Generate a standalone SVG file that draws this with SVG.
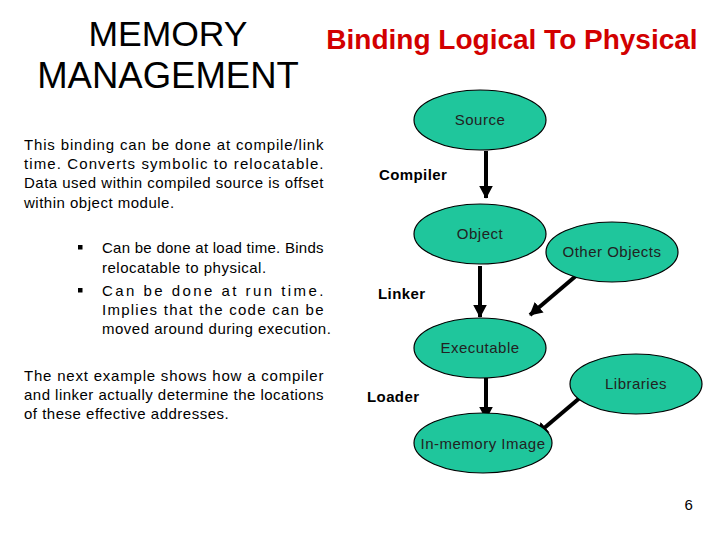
<svg xmlns="http://www.w3.org/2000/svg" width="720" height="540" viewBox="0 0 720 540">
<style>
.node{fill:#1fc69c;stroke:#000;stroke-width:1.2}
.nt{font-family:"Liberation Sans",Arial,sans-serif;font-size:15px;letter-spacing:0.5px;fill:#222;text-anchor:middle}
.lbl{font-family:"Liberation Sans",Arial,sans-serif;font-size:15px;font-weight:bold;fill:#000}
.body{font-family:"Liberation Sans",Arial,sans-serif;font-size:15px;letter-spacing:0.5px;fill:#000}
.conn{stroke:#000;stroke-width:4;fill:none;marker-end:url(#ah)}
</style>
<defs>
<marker id="ah" markerWidth="4" markerHeight="4" refX="3" refY="2" orient="auto" markerUnits="strokeWidth" viewBox="0 0 4 4">
<path d="M0,0.3 L3.2,2 L0,3.7 z" fill="#000"/>
</marker>
</defs>
<rect width="720" height="540" fill="#fff"/>
<g id="title">
<text x="168" y="46" font-family="Liberation Sans,Arial,sans-serif" font-size="35.5" text-anchor="middle" fill="#000">MEMORY</text>
<text x="168" y="88" font-family="Liberation Sans,Arial,sans-serif" font-size="36.5" text-anchor="middle" fill="#000">MANAGEMENT</text>
<text x="512" y="49" font-family="Liberation Sans,Arial,sans-serif" font-size="28" font-weight="bold" text-anchor="middle" fill="#d20000">Binding Logical To Physical</text>
</g>
<g id="body-text" class="body">
<text x="24" y="150" textLength="300" lengthAdjust="spacing">This binding can be done at compile/link</text>
<text x="24" y="169" textLength="300" lengthAdjust="spacing">time. Converts symbolic to relocatable.</text>
<text x="24" y="188" textLength="300" lengthAdjust="spacing">Data used within compiled source is offset</text>
<text x="24" y="208">within object module.</text>
<rect x="78" y="245" width="4.5" height="4.5" fill="#000"/>
<text x="102" y="253" textLength="222" lengthAdjust="spacing">Can be done at load time. Binds</text>
<text x="102" y="273">relocatable to physical.</text>
<rect x="78" y="288" width="4.5" height="4.5" fill="#000"/>
<text x="102" y="296" textLength="222" lengthAdjust="spacing">Can be done at run time.</text>
<text x="102" y="315" textLength="222" lengthAdjust="spacing">Implies that the code can be</text>
<text x="102" y="334">moved around during execution.</text>
<text x="24" y="381" textLength="300" lengthAdjust="spacing">The next example shows how a compiler</text>
<text x="24" y="400" textLength="300" lengthAdjust="spacing">and linker actually determine the locations</text>
<text x="24" y="419">of these effective addresses.</text>
<text x="689" y="510" text-anchor="middle">6</text>
</g>
<g id="connectors">
<line class="conn" x1="486" y1="151" x2="486" y2="198"/>
<line class="conn" x1="480" y1="266" x2="480" y2="317"/>
<line class="conn" x1="577" y1="275" x2="530" y2="315"/>
<line class="conn" x1="486" y1="378" x2="486" y2="419"/>
<line class="conn" x1="582" y1="396" x2="536" y2="435"/>
</g>
<g id="source"><ellipse class="node" cx="480" cy="120" rx="66" ry="30"/><text class="nt" x="480" y="125">Source</text></g>
<g id="object"><ellipse class="node" cx="480" cy="234" rx="66" ry="30"/><text class="nt" x="480" y="239">Object</text></g>
<g id="other-objects"><ellipse class="node" cx="612" cy="252" rx="66" ry="30"/><text class="nt" x="612" y="257">Other Objects</text></g>
<g id="executable"><ellipse class="node" cx="480" cy="348" rx="66" ry="30"/><text class="nt" x="480" y="353">Executable</text></g>
<g id="libraries"><ellipse class="node" cx="636" cy="384" rx="66" ry="30"/><text class="nt" x="636" y="389">Libraries</text></g>
<g id="in-memory-image"><ellipse class="node" cx="483" cy="443" rx="69" ry="30"/><text class="nt" x="483" y="449">In-memory Image</text></g>
<g id="labels" class="lbl">
<text x="379" y="180" letter-spacing="0.4">Compiler</text>
<text x="378" y="299" letter-spacing="0.4">Linker</text>
<text x="367" y="402" letter-spacing="0.4">Loader</text>
</g>
</svg>
